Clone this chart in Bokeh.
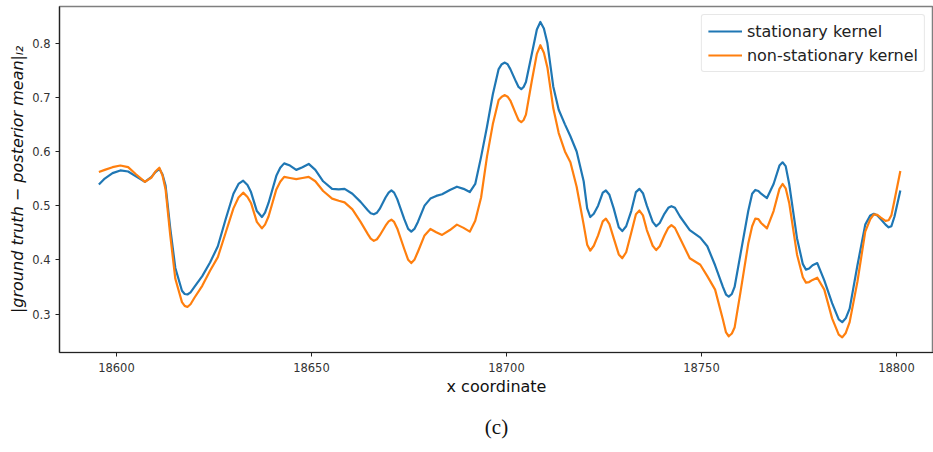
from bokeh.plotting import figure
from bokeh.models import Range1d, Legend, LegendItem, Title, FixedTicker
from bokeh.embed import file_html
from bokeh.resources import INLINE

x_coord = [18595.5, 18597, 18599, 18601, 18603, 18605, 18607.3, 18609, 18610, 18611,
           18611.8, 18612.6, 18613.8, 18615.1, 18616.8, 18617.5, 18618.2, 18619, 18620, 18622,
           18624, 18626, 18628, 18630, 18631.3, 18632.5, 18633.6, 18634.5, 18636, 18637.3,
           18638.1, 18639, 18641, 18642, 18643, 18644.5, 18646.1, 18647.7, 18649.3, 18651,
           18653, 18655.3, 18657, 18658.5, 18660.5, 18662.6, 18664.5, 18665.2, 18666, 18666.8,
           18667.5, 18669, 18669.8, 18670.5, 18671.2, 18672, 18673.8, 18674.8, 18675.6, 18676.4,
           18677.3, 18679, 18680.5, 18682, 18683.5, 18685.5, 18687.3, 18689, 18690.6, 18692,
           18693.5, 18695, 18696.5, 18698, 18698.8, 18699.6, 18700.3, 18701, 18702.5, 18703.1,
           18703.8, 18704.4, 18705, 18706.5, 18707.8, 18708.7, 18709.6, 18710.5, 18712, 18713.4,
           18715, 18716.4, 18718, 18719.8, 18720.7, 18721.5, 18722.4, 18723.5, 18724.7, 18725.5,
           18726.4, 18727.5, 18728.8, 18729.7, 18730.7, 18732, 18733.2, 18734.1, 18735, 18736,
           18737.5, 18738.4, 18739.3, 18740.5, 18741.5, 18742.3, 18743.2, 18744.5, 18747, 18749.7,
           18751.5, 18753.5, 18755.5, 18756.3, 18757, 18757.8, 18758.5, 18760, 18762, 18763,
           18763.8, 18764.6, 18765.3, 18766.8, 18768.5, 18770, 18770.8, 18771.6, 18772.5, 18774.5,
           18776, 18776.8, 18777.6, 18778.5, 18779.7, 18781.5, 18783.5, 18785.2, 18786.1, 18787,
           18788, 18790, 18792, 18793.3, 18794.2, 18795.1, 18796, 18797.2, 18798, 18798.7,
           18799.5, 18801]

stationary = [0.539, 0.550, 0.560, 0.565, 0.563, 0.554, 0.544, 0.553, 0.562, 0.568,
              0.558, 0.537, 0.458, 0.385, 0.343, 0.337, 0.336, 0.340, 0.350, 0.370,
              0.395, 0.425, 0.475, 0.522, 0.540, 0.546, 0.538, 0.525, 0.490, 0.479,
              0.487, 0.505, 0.555, 0.570, 0.578, 0.574, 0.566, 0.571, 0.577, 0.566,
              0.545, 0.531, 0.530, 0.531, 0.522, 0.507, 0.491, 0.486, 0.484, 0.487,
              0.494, 0.515, 0.524, 0.528, 0.524, 0.512, 0.475, 0.457, 0.452, 0.457,
              0.470, 0.500, 0.513, 0.518, 0.521, 0.529, 0.535, 0.531, 0.525, 0.540,
              0.590, 0.645, 0.705, 0.752, 0.761, 0.764, 0.761, 0.752, 0.728, 0.719,
              0.715, 0.719, 0.728, 0.780, 0.825, 0.839, 0.827, 0.800, 0.720, 0.677,
              0.650, 0.628, 0.600, 0.545, 0.495, 0.479, 0.485, 0.500, 0.524, 0.528,
              0.520, 0.495, 0.460, 0.453, 0.462, 0.490, 0.525, 0.531, 0.523, 0.500,
              0.470, 0.462, 0.468, 0.485, 0.496, 0.499, 0.496, 0.480, 0.455, 0.441,
              0.425, 0.390, 0.350, 0.336, 0.332, 0.337, 0.350, 0.410, 0.490, 0.522,
              0.529, 0.527, 0.522, 0.514, 0.540, 0.574, 0.580, 0.573, 0.540, 0.440,
              0.392, 0.382, 0.384, 0.390, 0.394, 0.362, 0.320, 0.290, 0.285, 0.292,
              0.310, 0.390, 0.465, 0.482, 0.485, 0.482, 0.475, 0.465, 0.460, 0.462,
              0.480, 0.528]

non_stationary = [0.562, 0.566, 0.571, 0.574, 0.571, 0.558, 0.544, 0.552, 0.563, 0.570,
                  0.556, 0.530, 0.445, 0.365, 0.322, 0.315, 0.313, 0.318, 0.330, 0.352,
                  0.380, 0.405, 0.450, 0.495, 0.515, 0.524, 0.516, 0.505, 0.470, 0.458,
                  0.465, 0.480, 0.530, 0.544, 0.553, 0.551, 0.549, 0.551, 0.553, 0.545,
                  0.527, 0.513, 0.509, 0.506, 0.493, 0.470, 0.447, 0.439, 0.435, 0.438,
                  0.445, 0.463, 0.471, 0.474, 0.470, 0.458, 0.420, 0.400, 0.394, 0.400,
                  0.415, 0.445, 0.457, 0.451, 0.446, 0.455, 0.465, 0.459, 0.452, 0.472,
                  0.515, 0.590, 0.650, 0.695, 0.701, 0.704, 0.701, 0.694, 0.668, 0.658,
                  0.654, 0.658, 0.668, 0.730, 0.780, 0.796, 0.782, 0.755, 0.680, 0.634,
                  0.600, 0.580, 0.535, 0.465, 0.428, 0.417, 0.426, 0.445, 0.471, 0.476,
                  0.466, 0.440, 0.410, 0.403, 0.414, 0.450, 0.484, 0.491, 0.482, 0.455,
                  0.426, 0.418, 0.425, 0.445, 0.459, 0.464, 0.459, 0.440, 0.403, 0.391,
                  0.370, 0.345, 0.290, 0.266, 0.259, 0.264, 0.275, 0.340, 0.430, 0.462,
                  0.476, 0.475, 0.468, 0.458, 0.490, 0.531, 0.540, 0.532, 0.505, 0.410,
                  0.368, 0.358, 0.359, 0.363, 0.367, 0.345, 0.292, 0.262, 0.257, 0.265,
                  0.285, 0.360, 0.452, 0.475, 0.484, 0.483, 0.478, 0.472, 0.473, 0.482,
                  0.510, 0.564]

x_ticks = [18600, 18650, 18700, 18750, 18800]
y_ticks = [0.3, 0.4, 0.5, 0.6, 0.7, 0.8]
series_names = ["stationary kernel", "non-stationary kernel"]
series_colors = ["#1f77b4", "#ff7f0e"]

p = figure(width=933, height=452, output_backend="svg", toolbar_location=None,
           x_range=Range1d(18585.4, 18809.5), y_range=Range1d(0.229, 0.8675),
           min_border_left=59, min_border_right=0, min_border_top=6, min_border_bottom=96)

p.xgrid.visible = False
p.ygrid.visible = False
p.outline_line_color = "#7f7f7f"
p.outline_line_width = 1.5
p.background_fill_color = "white"
p.border_fill_color = "white"

r1 = p.line(x_coord, stationary, line_color=series_colors[0], line_width=2.2, line_join="round")
r2 = p.line(x_coord, non_stationary, line_color=series_colors[1], line_width=2.2, line_join="round")

for ax in (p.xaxis[0], p.yaxis[0]):
    ax.axis_line_color = "#222222"
    ax.axis_line_width = 1.2
    ax.major_tick_line_color = "#222222"
    ax.major_tick_out = 4
    ax.major_tick_in = 0
    ax.minor_tick_line_color = None
    ax.major_label_text_font = "DejaVu Sans"
    ax.major_label_text_font_size = "11.5px"
    ax.major_label_text_color = "#333333"
    ax.axis_label_text_font = "DejaVu Sans"
    ax.axis_label_text_font_size = "16px"
    ax.axis_label_text_color = "#111111"
    ax.axis_label_text_font_style = "normal"

p.xaxis.ticker = FixedTicker(ticks=x_ticks)
p.yaxis.ticker = FixedTicker(ticks=y_ticks)
p.xaxis.major_label_standoff = 6
p.yaxis.major_label_standoff = 5
p.xaxis.axis_label = "x coordinate"
p.xaxis.axis_label_standoff = 2
p.yaxis.axis_label = "|ground truth \u2212 posterior mean|\u2097\u2082"
p.yaxis.axis_label_text_font_style = "italic"
p.yaxis.axis_label_standoff = 2

legend = Legend(items=[LegendItem(label=series_names[0], renderers=[r1]),
                       LegendItem(label=series_names[1], renderers=[r2])],
                location="top_right")
legend.label_text_font = "DejaVu Sans"
legend.label_text_font_size = "16px"
legend.label_text_color = "#222222"
legend.glyph_width = 34
legend.spacing = 4
legend.padding = 6
legend.margin = 8
legend.border_line_color = "#d0d0d0"
legend.border_radius = 3
legend.background_fill_alpha = 0.9
p.add_layout(legend)

caption = Title(text="(c)", align="center", text_font="Liberation Serif",
                text_font_size="21px", text_color="#111111", text_font_style="normal",
                standoff=28)
p.add_layout(caption, "below")

open("out.html", "w").write(file_html(p, INLINE))
